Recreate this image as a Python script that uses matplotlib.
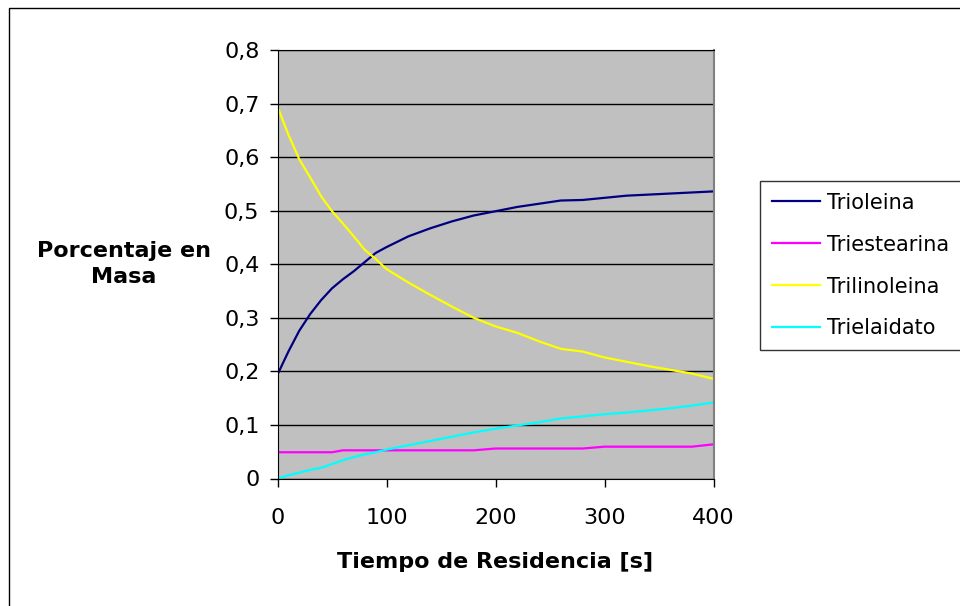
import matplotlib
matplotlib.use("Agg")
import matplotlib.pyplot as plt
from matplotlib.patches import Rectangle

# tiempo de residencia [s]
tiempo = [0, 10, 20, 30, 40, 50, 60, 70, 80, 90, 100, 120, 140, 160, 180,
          200, 220, 240, 260, 280, 300, 320, 340, 360, 380, 400]

trioleina = [0.194, 0.237, 0.276, 0.307, 0.333, 0.355, 0.372, 0.387, 0.404,
             0.421, 0.432, 0.452, 0.467, 0.480, 0.491, 0.499, 0.507, 0.513,
             0.519, 0.520, 0.524, 0.528, 0.530, 0.532, 0.534, 0.536]
triestearina = [0.049, 0.049, 0.049, 0.049, 0.049, 0.049, 0.0526, 0.0526,
                0.0526, 0.0526, 0.0526, 0.0526, 0.0526, 0.0526, 0.0526, 0.056,
                0.056, 0.056, 0.056, 0.056, 0.0594, 0.0594, 0.0594, 0.0594,
                0.0594, 0.0638]
trilinoleina = [0.694, 0.642, 0.596, 0.562, 0.527, 0.499, 0.476, 0.452, 0.427,
                0.410, 0.391, 0.366, 0.343, 0.321, 0.300, 0.284, 0.272, 0.256,
                0.242, 0.237, 0.226, 0.218, 0.210, 0.203, 0.196, 0.186]
trielaidato = [0.0, 0.006, 0.011, 0.016, 0.020, 0.027, 0.034, 0.040, 0.045,
               0.049, 0.054, 0.062, 0.070, 0.078, 0.086, 0.093, 0.099, 0.105,
               0.112, 0.116, 0.120, 0.123, 0.127, 0.131, 0.136, 0.142]

series = ["Trioleina", "Triestearina", "Trilinoleina", "Trielaidato"]
colores = ["#000080", "#FF00FF", "#FFFF00", "#00FFFF"]

y_ticks = [0, 0.1, 0.2, 0.3, 0.4, 0.5, 0.6, 0.7, 0.8]
y_labels = ["0", "0,1", "0,2", "0,3", "0,4", "0,5", "0,6", "0,7", "0,8"]
x_ticks = [0, 100, 200, 300, 400]

fig = plt.figure(figsize=(9.6, 6.06), dpi=100)
fig.patch.set_facecolor("white")

# marco exterior del grafico
fig.patches.append(Rectangle((9 / 960, -0.1), 2, 1 - 8 / 606 + 0.1, fill=False,
                             edgecolor="black", linewidth=1,
                             transform=fig.transFigure, figure=fig))

ax = fig.add_axes([277.5 / 960, 1 - 478.5 / 606, 436 / 960, 428.5 / 606])
ax.set_facecolor("#C0C0C0")

for datos, nombre, color in zip([trioleina, triestearina, trilinoleina, trielaidato],
                                series, colores):
    ax.plot(tiempo, datos, color=color, linewidth=1.6, label=nombre)

ax.set_xlim(0, 400)
ax.set_ylim(0, 0.8)
ax.set_yticks(y_ticks)
ax.set_yticklabels(y_labels)
ax.set_xticks(x_ticks)
ax.yaxis.grid(True, color="black", linewidth=1)
ax.set_axisbelow(True)
ax.tick_params(axis="both", direction="out", length=6, width=1, labelsize=16,
               color="black")
ax.tick_params(axis="y", pad=7)
ax.tick_params(axis="x", pad=15)
for lado in ["left", "bottom", "top"]:
    ax.spines[lado].set_color("black")
ax.spines["right"].set_color("#808080")
ax.spines["right"].set_linewidth(1.5)

fig.text(495.5 / 960, 1 - 562 / 606, "Tiempo de Residencia [s]", ha="center",
         va="center", fontsize=16, fontweight="bold")
fig.text(124 / 960, 1 - 264 / 606, "Porcentaje en\nMasa", ha="center",
         va="center", fontsize=16, fontweight="bold", linespacing=1.35)

leg = ax.legend(loc="upper left", bbox_to_anchor=(760 / 960, 1 - 180.7 / 606),
                bbox_transform=fig.transFigure, fontsize=15, frameon=True,
                fancybox=False, borderaxespad=0, borderpad=0.58,
                handlelength=2.3, handletextpad=0.35, labelspacing=1.05)
leg.get_frame().set_edgecolor("black")
leg.get_frame().set_linewidth(1)
for linea in leg.get_lines():
    linea.set_linewidth(1.6)

fig.savefig("out.png", dpi=100)
